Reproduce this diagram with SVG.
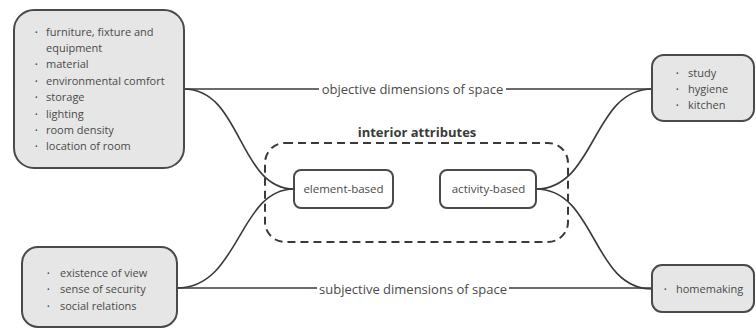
<svg xmlns="http://www.w3.org/2000/svg" width="756" height="329" viewBox="0 0 756 329">
  <style>
    .box { fill: #e6e6e6; stroke: #4a4a4a; stroke-width: 2; }
    .pill { fill: #ffffff; stroke: #4a4a4a; stroke-width: 2; }
    .group { fill: none; stroke: #3a3a3a; stroke-width: 2; stroke-dasharray: 8 5; }
    .wire { fill: none; stroke: #3a3a3a; stroke-width: 1.6; }
    text { font-family: "Open Sans", "Noto Sans", "DejaVu Sans", sans-serif; fill: #4a4a4a; }
    .item { font-size: 11px; }
    .dot { font-size: 7px; }
    .label { font-size: 13px; text-anchor: middle; }
    .title { font-size: 13px; font-weight: bold; text-anchor: middle; fill: #3a3a3a; }
    .node { font-size: 11.5px; text-anchor: middle; }
  </style>

  <!-- connectors -->
  <g id="connectors">
    <path class="wire" d="M184,89 H652"/>
    <path class="wire" d="M177,288 H652"/>
    <path class="wire" d="M184,89 C242,89 238,189 294,189"/>
    <path class="wire" d="M177,288 C240,288 238,189 294,189"/>
    <path class="wire" d="M536,189 C596,189 592,89 652,89"/>
    <path class="wire" d="M536,189 C596,189 592,289 652,289"/>
    <rect x="319" y="80" width="187" height="18" fill="#ffffff"/>
    <text class="label" x="412.5" y="93.5">objective dimensions of space</text>
    <rect x="317" y="279" width="192" height="18" fill="#ffffff"/>
    <text class="label" x="413" y="293.5">subjective dimensions of space</text>
  </g>

  <!-- interior attributes group -->
  <g id="interior-attributes">
    <rect class="group" x="265" y="143" width="303" height="99" rx="20"/>
    <text class="title" x="417" y="137">interior attributes</text>
  </g>

  <g id="element-based">
    <rect class="pill" x="294" y="170" width="99" height="38" rx="7"/>
    <text class="node" x="343.5" y="193">element-based</text>
  </g>

  <g id="activity-based">
    <rect class="pill" x="440" y="170" width="96" height="38" rx="7"/>
    <text class="node" x="488.5" y="193">activity-based</text>
  </g>

  <!-- objective element attributes -->
  <g id="objective-elements">
    <rect class="box" x="14" y="10" width="170" height="158" rx="20"/>
    <text class="dot" x="35" y="35">•</text>
    <text class="item" x="46" y="36">furniture, fixture and</text>
    <text class="item" x="46" y="52">equipment</text>
    <text class="dot" x="35" y="67">•</text>
    <text class="item" x="46" y="68">material</text>
    <text class="dot" x="35" y="84">•</text>
    <text class="item" x="46" y="85">environmental comfort</text>
    <text class="dot" x="35" y="100">•</text>
    <text class="item" x="46" y="101">storage</text>
    <text class="dot" x="35" y="117">•</text>
    <text class="item" x="46" y="118">lighting</text>
    <text class="dot" x="35" y="133">•</text>
    <text class="item" x="46" y="134">room density</text>
    <text class="dot" x="35" y="149">•</text>
    <text class="item" x="46" y="150">location of room</text>
  </g>

  <!-- subjective element attributes -->
  <g id="subjective-elements">
    <rect class="box" x="22" y="247" width="155" height="80" rx="16"/>
    <text class="dot" x="47" y="276">•</text>
    <text class="item" x="60" y="277">existence of view</text>
    <text class="dot" x="47" y="292">•</text>
    <text class="item" x="60" y="293">sense of security</text>
    <text class="dot" x="47" y="309">•</text>
    <text class="item" x="60" y="310">social relations</text>
  </g>

  <!-- objective activities -->
  <g id="objective-activities">
    <rect class="box" x="652" y="55" width="102" height="66" rx="12"/>
    <text class="dot" x="676" y="76">•</text>
    <text class="item" x="688" y="77">study</text>
    <text class="dot" x="676" y="92">•</text>
    <text class="item" x="688" y="93">hygiene</text>
    <text class="dot" x="676" y="108">•</text>
    <text class="item" x="688" y="109">kitchen</text>
  </g>

  <!-- subjective activities -->
  <g id="subjective-activities">
    <rect class="box" x="652" y="265" width="102" height="47" rx="10"/>
    <text class="dot" x="664" y="292">•</text>
    <text class="item" x="676" y="293">homemaking</text>
  </g>
</svg>
